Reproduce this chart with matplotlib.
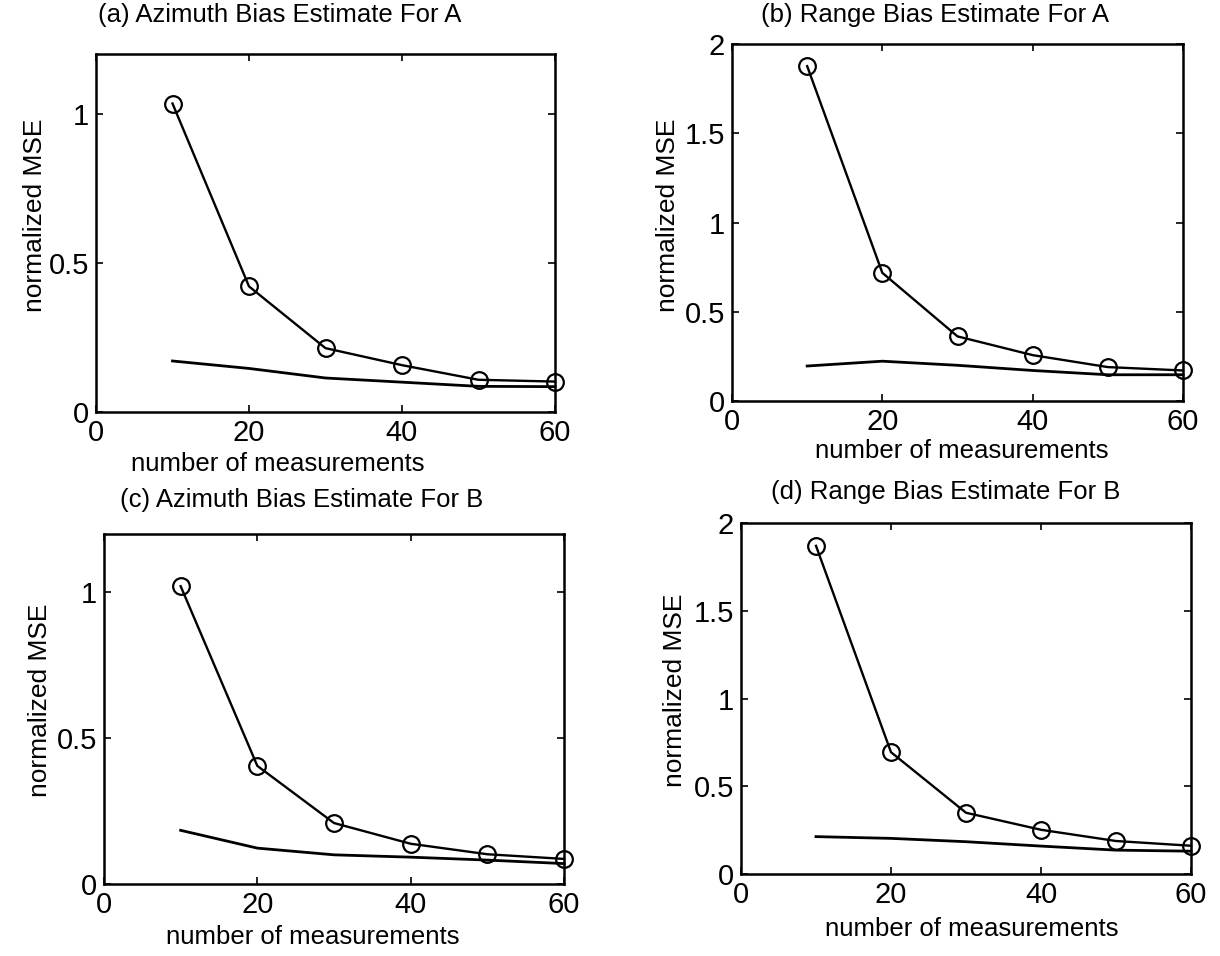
import matplotlib
matplotlib.use("Agg")
import matplotlib.pyplot as plt

plt.rcParams["font.family"] = ["Liberation Sans", "DejaVu Sans"]

# data
n_meas = [10, 20, 30, 40, 50, 60]

az_a_mse = [1.034, 0.421, 0.214, 0.157, 0.108, 0.102]
az_a_crb = [0.171, 0.146, 0.114, 0.100, 0.086, 0.085]

rg_a_mse = [1.876, 0.718, 0.362, 0.257, 0.190, 0.171]
rg_a_crb = [0.196, 0.223, 0.200, 0.171, 0.147, 0.147]

az_b_mse = [1.021, 0.405, 0.209, 0.138, 0.102, 0.086]
az_b_crb = [0.184, 0.123, 0.100, 0.092, 0.082, 0.070]

rg_b_mse = [1.870, 0.694, 0.349, 0.252, 0.188, 0.161]
rg_b_crb = [0.213, 0.203, 0.184, 0.159, 0.136, 0.130]

titles = ["(a) Azimuth Bias Estimate For A", "(b) Range Bias Estimate For A",
          "(c) Azimuth Bias Estimate For B", "(d) Range Bias Estimate For B"]
x_ticks = [0, 20, 40, 60]
y_ticks_az = [0, 0.5, 1]
y_ticks_rg = [0, 0.5, 1, 1.5, 2]

W, H = 1220, 956
fig = plt.figure(figsize=(W / 100, H / 100), dpi=100)


def box(l, t, r, b):
    return [l / W, 1 - b / H, (r - l) / W, (b - t) / H]


panels = [
    # axes box (px), data, y-limit, yticks, title pos, xlabel pos, ylabel pos
    (box(96, 54, 555, 412), az_a_mse, az_a_crb, 1.2, y_ticks_az, (280, 15), (278, 464), (35, 215)),
    (box(732, 44, 1183, 401), rg_a_mse, rg_a_crb, 2.0, y_ticks_rg, (935, 15), (962, 451), (668, 215)),
    (box(104, 534, 564, 884), az_b_mse, az_b_crb, 1.2, y_ticks_az, (302, 500), (313, 937), (40, 700)),
    (box(741, 523, 1191, 874), rg_b_mse, rg_b_crb, 2.0, y_ticks_rg, (946, 492), (972, 929), (675, 690)),
]

for i, (pos, mse, crb, ytop, yt, tpos, xlpos, ylpos) in enumerate(panels):
    ax = fig.add_axes(pos)
    ax.plot(n_meas, mse, color="black", linewidth=1.7, marker="o",
            markersize=12, markerfacecolor="none", markeredgewidth=1.6,
            clip_on=False)
    ax.plot(n_meas, crb, color="black", linewidth=2.0, clip_on=False)
    ax.set_xlim(0, 60)
    ax.set_ylim(0, ytop)
    ax.set_xticks(x_ticks)
    ax.set_yticks(yt)
    ax.set_yticklabels([f"{v:g}" for v in yt])
    ax.tick_params(direction="in", top=True, right=True, length=5,
                   width=1.2, labelsize=21, pad=5)
    for s in ax.spines.values():
        s.set_linewidth(1.8)

    fig.text(tpos[0] / W, 1 - tpos[1] / H, titles[i], fontsize=18.5,
             ha="center", va="center")
    fig.text(xlpos[0] / W, 1 - xlpos[1] / H, "number of measurements",
             fontsize=18.5, ha="center", va="center")
    fig.text(ylpos[0] / W, 1 - ylpos[1] / H, "normalized MSE", fontsize=19,
             ha="center", va="center", rotation=90)

plt.savefig("out.png", dpi=100)
plt.close()
